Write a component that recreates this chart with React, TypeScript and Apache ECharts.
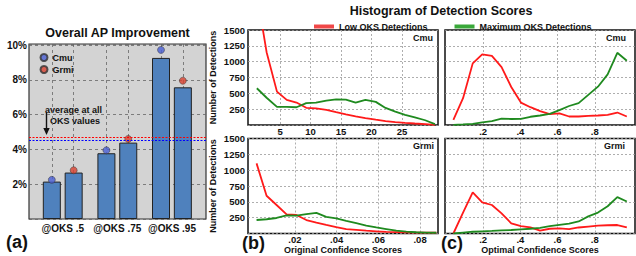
import React, { useEffect, useRef } from 'react';
import * as echarts from 'echarts';

// ---------- Panel (a): Overall AP improvement ----------
const groups = ['@OKS .5', '@OKS .75', '@OKS .95'];
const cmuBars = [2.15, 3.78, 9.26];
const grmiBars = [2.67, 4.39, 7.57];
const cmuDots = [2.25, 3.95, 9.72];
const grmiDots = [2.8, 4.6, 7.95];
const avgCmu = 4.55;
const avgGrmi = 4.7;

// ---------- Panels (b), (c): Histograms ----------
const origCmuX = [1.2, 2.8, 4.5, 6.1, 7.7, 9.3, 10.9, 12.6, 14.2, 15.8, 17.4, 19.0, 20.7, 22.3, 23.9, 25.5, 27.1, 28.8, 30.4];
const origCmuLow = [2080, 1150, 527, 396, 354, 272, 262, 240, 202, 167, 137, 110, 85, 62, 47, 34, 24, 15, 3];
const origCmuMax = [580, 430, 285, 285, 280, 345, 352, 385, 405, 400, 352, 395, 365, 270, 210, 160, 120, 75, 15];

const origGrmiX = [0.0016, 0.0064, 0.0112, 0.016, 0.0207, 0.0255, 0.0303, 0.035, 0.0398, 0.0446, 0.0494, 0.0542, 0.059, 0.0638, 0.0686, 0.0734, 0.0782, 0.083, 0.0878];
const origGrmiLow = [1107, 596, 450, 303, 292, 213, 170, 135, 100, 68, 58, 45, 35, 25, 22, 18, 15, 13, 12];
const origGrmiMax = [213, 225, 245, 285, 282, 305, 325, 262, 238, 200, 165, 125, 95, 70, 45, 30, 20, 15, 12];

const optX = [0.04, 0.092, 0.144, 0.195, 0.247, 0.299, 0.351, 0.403, 0.454, 0.506, 0.558, 0.61, 0.662, 0.713, 0.765, 0.817, 0.869, 0.921, 0.972];
const optCmuLow = [82, 423, 973, 1115, 1090, 915, 600, 354, 281, 220, 171, 185, 134, 134, 145, 150, 160, 197, 134];
const optCmuMax = [2, 10, 19, 40, 60, 100, 95, 98, 130, 150, 176, 235, 300, 345, 475, 605, 800, 1140, 1014];
const optGrmiLow = [0, 330, 650, 492, 450, 318, 161, 118, 98, 44, 75, 82, 70, 95, 110, 125, 130, 134, 98];
const optGrmiMax = [0, 15, 28, 35, 40, 48, 55, 65, 75, 90, 115, 135, 155, 190, 270, 330, 430, 575, 505];

const origCmuTicks = [5, 10, 15, 20, 25];
const origGrmiTicks = [0.02, 0.04, 0.06, 0.08];
const optTicks = [0.2, 0.4, 0.6, 0.8];

const LOW = 'Low OKS Detections';
const MAX = 'Maximum OKS Detections';

const FONT = "'Liberation Sans', Arial, Helvetica, sans-serif";
const RED = '#ff1a1a';
const GREEN = '#1f8a1f';

function pairs(xs: number[], ys: number[]) {
  return xs.map((x, i) => [x, ys[i]]);
}

function dotTick(v: number) {
  return String(v).replace(/^0\./, '.');
}

export default function App() {
  const ref = useRef<HTMLDivElement>(null);

  useEffect(() => {
    if (!ref.current) return;
    const chart = echarts.init(ref.current, null, { renderer: 'svg' });

    const txt = (extra: any) => ({ fontFamily: FONT, fontWeight: 'bold', color: '#111', ...extra });

    const barPos = (g: number, s: number) => g + 1 + (s === 0 ? -0.2 : 0.2);
    const barTickPos: number[] = [];
    groups.forEach((_, g) => { barTickPos.push(barPos(g, 0), barPos(g, 1)); });

    const histGrids = [
      { left: 248, top: 30, width: 190, height: 95 },
      { left: 248, top: 138.5, width: 190, height: 95 },
      { left: 445, top: 30, width: 190, height: 95 },
      { left: 445, top: 138.5, width: 190, height: 95 },
    ];

    const histX = [
      { min: -0.25, max: 30.9, ticks: origCmuTicks, name: '' },
      { min: -0.0025, max: 0.0886, ticks: origGrmiTicks, name: 'Original Confidence Scores' },
      { min: -0.005, max: 1.016, ticks: optTicks, name: '' },
      { min: -0.005, max: 1.016, ticks: optTicks, name: 'Optimal Confidence Scores' },
    ];

    const histData = [
      [pairs(origCmuX, origCmuLow), pairs(origCmuX, origCmuMax)],
      [pairs(origGrmiX, origGrmiLow), pairs(origGrmiX, origGrmiMax)],
      [pairs(optX, optCmuLow), pairs(optX, optCmuMax)],
      [pairs(optX, optGrmiLow), pairs(optX, optGrmiMax)],
    ];

    const grid: any[] = [
      {
        left: 29, top: 44, width: 177, height: 175,
        show: true, backgroundColor: '#d3d3d3', borderColor: '#333', borderWidth: 1.2,
      },
      ...histGrids.map((g) => ({ ...g, show: true, backgroundColor: '#fff', borderColor: '#111', borderWidth: 1.5 })),
    ];

    const xAxis: any[] = [
      {
        type: 'value', gridIndex: 0, min: 0.382, max: 3.624,
        axisLine: { show: false },
        axisTick: { show: false, customValues: barTickPos },
        splitLine: { show: true, lineStyle: { color: '#666', type: [3, 3], width: 0.8 } },
        axisLabel: {
          customValues: [1, 2, 3],
          formatter: (v: number) => groups[Math.round(v) - 1] || '',
          margin: 4,
          ...txt({ fontSize: 10 }),
        },
      },
      ...histX.map((a, i) => ({
        type: 'value', gridIndex: i + 1, min: a.min, max: a.max,
        axisLine: { show: false },
        axisTick: { show: false, customValues: a.ticks },
        splitLine: { show: true, lineStyle: { color: '#999', type: [2, 2], width: 0.8 } },
        axisLabel: {
          customValues: a.ticks,
          formatter: (v: number) => dotTick(v),
          margin: 1,
          ...txt({ fontSize: 9.5 }),
        },
        name: a.name,
        nameLocation: 'middle',
        nameGap: 10,
        nameTextStyle: txt({ fontSize: 9 }),
      })),
    ];

    const yAxis: any[] = [
      {
        type: 'value', gridIndex: 0, min: 0, max: 10.06, interval: 2,
        axisLine: { show: false }, axisTick: { show: false },
        splitLine: { show: true, lineStyle: { color: '#666', type: [3, 3], width: 0.8 } },
        axisLabel: {
          margin: 2,
          formatter: (v: number) => (v > 0 && Math.abs(v - Math.round(v)) < 1e-6 ? v + '%' : ''),
          ...txt({ fontSize: 10 }),
        },
      },
      ...histGrids.map((_, i) => ({
        type: 'value', gridIndex: i + 1, min: 0, max: 1500, interval: 250,
        axisLine: { show: false }, axisTick: { show: false },
        splitLine: { show: true, lineStyle: { color: '#999', type: [2, 2], width: 0.8 } },
        axisLabel: {
          show: i < 2,
          margin: 3,
          formatter: (v: number) => (v > 0 ? String(v) : ''),
          ...txt({ fontSize: 9.5 }),
        },
        name: i < 2 ? 'Number of Detections' : '',
        nameLocation: 'middle',
        nameRotate: 90,
        nameGap: 31,
        nameTextStyle: txt({ fontSize: 9 }),
      })),
    ];

    const series: any[] = [
      {
        name: 'AP Improvement', type: 'bar', xAxisIndex: 0, yAxisIndex: 0,
        barWidth: 18,
        itemStyle: { color: '#4f81bd', borderColor: '#222', borderWidth: 1 },
        data: groups.flatMap((_, g) => [[barPos(g, 0), cmuBars[g]], [barPos(g, 1), grmiBars[g]]]),
        markLine: {
          silent: true, symbol: ['none', 'none'], label: { show: false },
          lineStyle: { type: [2, 1.5], width: 1.2 },
          data: [
            { yAxis: avgGrmi, lineStyle: { color: '#ff0000', type: [2, 1.5], width: 1.2 } },
            { yAxis: avgCmu, lineStyle: { color: '#0000ff', type: [2, 1.5], width: 1.2 } },
          ],
        },
        z: 2,
      },
      {
        name: 'Cmu', type: 'scatter', xAxisIndex: 0, yAxisIndex: 0, symbolSize: 7,
        itemStyle: { color: '#4a5fd4', borderColor: '#333', borderWidth: 0.6 },
        data: groups.map((_, g) => [barPos(g, 0), cmuDots[g]]), z: 3,
      },
      {
        name: 'Grmi', type: 'scatter', xAxisIndex: 0, yAxisIndex: 0, symbolSize: 7,
        itemStyle: { color: '#d8412f', borderColor: '#333', borderWidth: 0.6 },
        data: groups.map((_, g) => [barPos(g, 1), grmiDots[g]]), z: 3,
      },
    ];

    histData.forEach((d, i) => {
      series.push({
        name: LOW, type: 'line', xAxisIndex: i + 1, yAxisIndex: i + 1,
        data: d[0], showSymbol: false, symbol: 'none', clip: true,
        lineStyle: { color: RED, width: 1.8 }, itemStyle: { color: '#f04848' },
      });
      series.push({
        name: MAX, type: 'line', xAxisIndex: i + 1, yAxisIndex: i + 1,
        data: d[1], showSymbol: false, symbol: 'none', clip: true,
        lineStyle: { color: GREEN, width: 1.8 }, itemStyle: { color: '#3aa83a' },
      });
    });

    const gtext = (text: string, x: number, y: number, size: number, align = 'left') => ({
      type: 'text', x, y, silent: true,
      style: {
        text, fill: '#111', textAlign: align, textVerticalAlign: 'middle', verticalAlign: 'middle',
        font: `bold ${size}px ${FONT}`,
      },
    });

    const option: any = {
      animation: false,
      backgroundColor: '#fff',
      grid, xAxis, yAxis, series,
      legend: [
        {
          data: ['Cmu', 'Grmi'], orient: 'vertical', left: 34.5, top: 48,
          icon: 'circle', itemWidth: 7, itemHeight: 7, itemGap: 3,
          textStyle: txt({ fontSize: 9 }), selectedMode: false,
        },
        {
          data: [LOW, MAX], left: 309, top: 17,
          icon: 'rect', itemWidth: 20, itemHeight: 4, itemGap: 27,
          textStyle: txt({ fontSize: 9 }), selectedMode: false,
        },
      ],
      graphic: [
        gtext('Overall AP Improvement', 117.5, 33, 12.5, 'center'),
        gtext('Histogram of Detection Scores', 441, 10.5, 12.5, 'center'),
        gtext('average at all', 73.5, 110, 9, 'center'),
        gtext('OKS values', 75, 120.5, 9, 'center'),
        {
          type: 'line', silent: true,
          shape: { x1: 46.5, y1: 113, x2: 46.5, y2: 130 },
          style: { stroke: '#111', lineWidth: 1.4 },
        },
        {
          type: 'polygon', silent: true,
          shape: { points: [[43.3, 128], [49.7, 128], [46.5, 135]] },
          style: { fill: '#111' },
        },
        gtext('Cmu', 433, 38, 9, 'right'),
        gtext('Grmi', 434, 146, 9, 'right'),
        gtext('Cmu', 626, 37.5, 9, 'right'),
        gtext('Grmi', 625, 146, 9, 'right'),
        gtext('(a)', 6, 242, 18),
        gtext('(b)', 242, 243, 18),
        gtext('(c)', 441, 243, 18),
      ],
    };

    chart.setOption(option);
    return () => chart.dispose();
  }, []);

  return (
    <div
      ref={ref}
      style={{ position: 'absolute', left: 0, top: 0, width: 636, height: 256 }}
    />
  );
}
